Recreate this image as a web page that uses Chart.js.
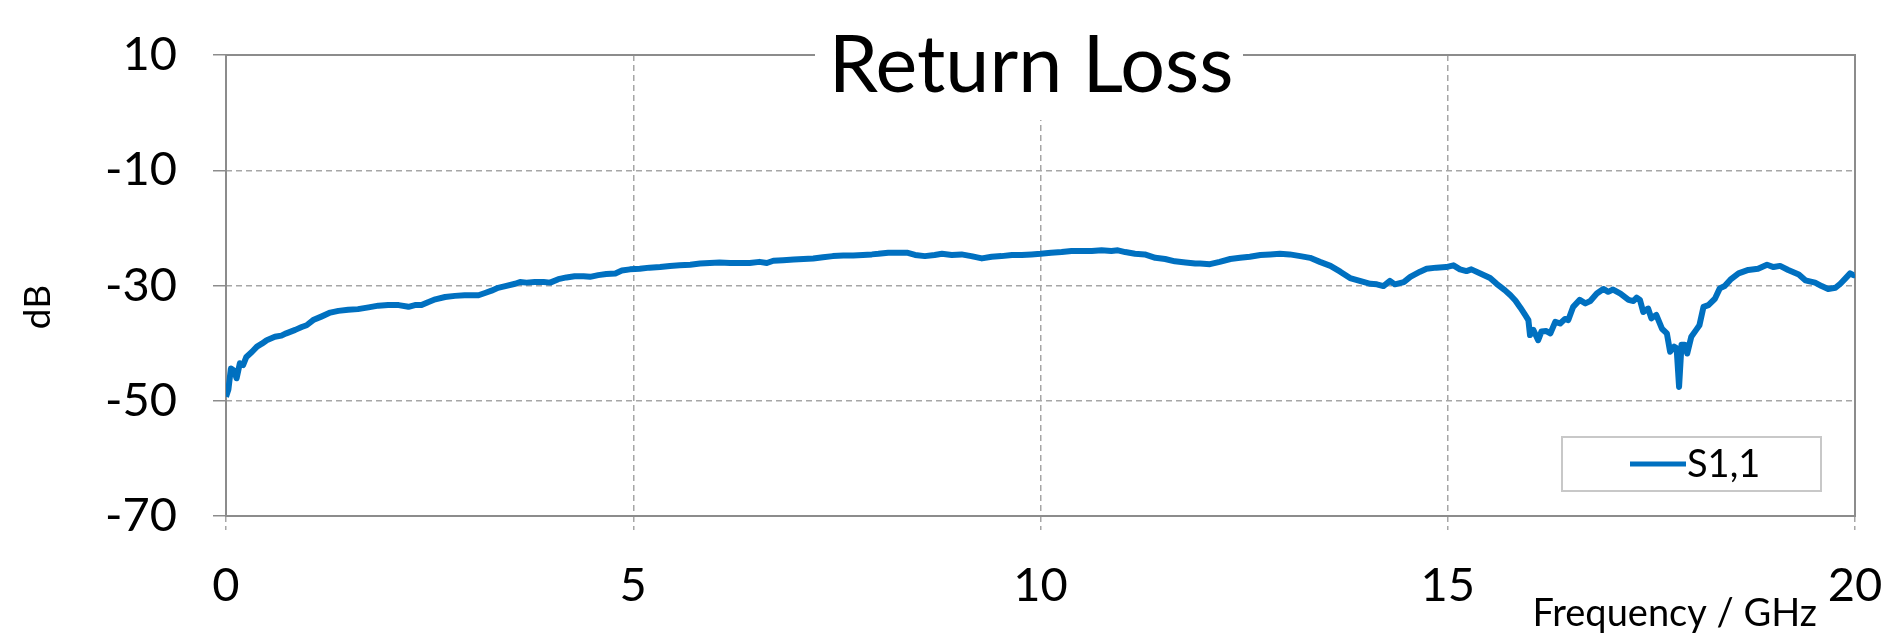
<!DOCTYPE html>
<html lang="en">
<head>
    <meta charset="UTF-8">
    <title>Return Loss</title>
    <script src="https://cdn.jsdelivr.net/npm/chart.js@4"></script>
    <style>
        html, body { margin: 0; padding: 0; background: #fff; }
        #wrap { width: 1890px; height: 634px; }
    </style>
</head>
<body>
    <div id="wrap"><canvas id="returnLoss" width="1890" height="634"></canvas></div>

    <script>
        // S1,1 (GHz, dB)
        const freqGHz = [
            0.00, 0.03, 0.06, 0.10, 0.13, 0.17, 0.21, 0.25, 0.32, 0.38,
            0.44, 0.50, 0.60, 0.68, 0.74, 0.85, 0.93, 0.99, 1.07, 1.17,
            1.28, 1.38, 1.50, 1.62, 1.75, 1.87, 1.99, 2.12, 2.24, 2.32,
            2.40, 2.48, 2.57, 2.69, 2.81, 2.93, 3.10, 3.18, 3.26, 3.34,
            3.43, 3.55, 3.61, 3.69, 3.79, 3.90, 3.98, 4.08, 4.18, 4.28,
            4.39, 4.47, 4.57, 4.67, 4.78, 4.86, 4.96, 5.08, 5.20, 5.33,
            5.45, 5.57, 5.70, 5.82, 5.94, 6.06, 6.19, 6.31, 6.43, 6.55,
            6.64, 6.72, 6.84, 6.97, 7.09, 7.21, 7.33, 7.45, 7.58, 7.70,
            7.82, 7.93, 8.01, 8.13, 8.25, 8.36, 8.46, 8.58, 8.70, 8.79,
            8.91, 9.03, 9.15, 9.28, 9.40, 9.52, 9.65, 9.77, 9.89, 10.00,
            10.13, 10.26, 10.38, 10.50, 10.63, 10.75, 10.87, 10.95, 11.04, 11.16,
            11.28, 11.41, 11.53, 11.65, 11.78, 11.90, 11.96, 12.08, 12.20, 12.33,
            12.45, 12.57, 12.70, 12.82, 12.94, 13.06, 13.19, 13.31, 13.43, 13.56,
            13.68, 13.80, 13.92, 14.05, 14.13, 14.21, 14.29, 14.35, 14.46, 14.54,
            14.66, 14.74, 14.86, 14.98, 15.07, 15.15, 15.23, 15.29, 15.40, 15.52,
            15.60, 15.70, 15.77, 15.83, 15.89, 15.95, 15.99, 16.01, 16.05, 16.08,
            16.11, 16.15, 16.21, 16.26, 16.32, 16.38, 16.44, 16.48, 16.54, 16.62,
            16.69, 16.75, 16.83, 16.91, 16.97, 17.03, 17.12, 17.22, 17.28, 17.32,
            17.36, 17.40, 17.46, 17.50, 17.56, 17.63, 17.69, 17.73, 17.78, 17.81,
            17.84, 17.87, 17.91, 17.94, 17.99, 18.05, 18.09, 18.14, 18.20, 18.28,
            18.34, 18.40, 18.47, 18.57, 18.69, 18.81, 18.92, 19.00, 19.08, 19.18,
            19.31, 19.39, 19.51, 19.59, 19.67, 19.76, 19.82, 19.88, 19.94, 19.98,
            20.00
        ];
        const s11dB = [
            -49.3, -48.0, -44.4, -44.8, -46.1, -43.5, -43.8, -42.4, -41.5, -40.6,
            -40.1, -39.5, -38.9, -38.7, -38.3, -37.7, -37.2, -36.9, -36.0, -35.4,
            -34.7, -34.4, -34.2, -34.1, -33.8, -33.5, -33.4, -33.4, -33.7, -33.4,
            -33.4, -32.9, -32.4, -32.0, -31.8, -31.7, -31.7, -31.3, -30.9, -30.4,
            -30.1, -29.7, -29.4, -29.5, -29.4, -29.4, -29.5, -28.9, -28.6, -28.4,
            -28.4, -28.5, -28.2, -28.0, -27.9, -27.4, -27.2, -27.1, -26.9, -26.8,
            -26.6, -26.5, -26.4, -26.2, -26.1, -26.0, -26.1, -26.1, -26.1, -25.9,
            -26.1, -25.7, -25.6, -25.5, -25.4, -25.3, -25.1, -24.9, -24.8, -24.8,
            -24.7, -24.6, -24.5, -24.3, -24.3, -24.3, -24.7, -24.9, -24.7, -24.5,
            -24.7, -24.6, -24.9, -25.3, -25.0, -24.9, -24.7, -24.7, -24.6, -24.5,
            -24.3, -24.2, -24.0, -24.0, -24.0, -23.9, -24.0, -23.9, -24.2, -24.5,
            -24.6, -25.2, -25.4, -25.8, -26.0, -26.2, -26.2, -26.3, -25.9, -25.4,
            -25.2, -25.0, -24.7, -24.6, -24.5, -24.6, -24.9, -25.2, -25.9, -26.6,
            -27.6, -28.7, -29.2, -29.7, -29.8, -30.1, -29.2, -29.8, -29.4, -28.5,
            -27.6, -27.1, -26.9, -26.8, -26.5, -27.2, -27.5, -27.2, -27.9, -28.7,
            -29.7, -30.8, -31.7, -32.6, -33.8, -35.1, -36.0, -38.6, -37.7, -38.6,
            -39.5, -38.0, -37.9, -38.3, -36.3, -36.6, -35.8, -36.0, -33.7, -32.5,
            -33.1, -32.7, -31.4, -30.6, -31.1, -30.7, -31.4, -32.5, -32.7, -32.1,
            -32.5, -34.6, -34.0, -35.7, -35.1, -37.5, -38.3, -41.5, -40.6, -40.9,
            -47.6, -40.3, -40.3, -41.8, -38.9, -37.7, -36.9, -33.7, -33.4, -32.3,
            -30.5, -30.1, -29.0, -27.9, -27.3, -27.1, -26.4, -26.8, -26.6, -27.3,
            -28.1, -29.1, -29.5, -30.1, -30.6, -30.4, -29.7, -28.8, -27.9, -28.2,
            -28.0
        ];
        const xTicks = [0, 5, 10, 15, 20];
        const yTicks = [-70, -50, -30, -10, 10];
        const seriesName = 'S1,1';
        const chartTitle = 'Return Loss';
        const xTitle = 'Frequency / GHz';
        const yTitle = 'dB';

        const FONT = 'Lato, Carlito, "Open Sans", sans-serif';
        const BLUE = '#0070C0';
        const AXIS_GREY = '#8c8c8c';
        const GRID_GREY = '#a6a6a6';

        // frame, title box, legend and axis titles drawn Excel-style
        const excelDecor = {
            id: 'excelDecor',
            beforeDatasetsDraw(chart) {
                const { ctx, chartArea: a } = chart;
                ctx.save();
                ctx.strokeStyle = AXIS_GREY;
                ctx.lineWidth = 2;
                ctx.strokeRect(a.left, a.top, a.right - a.left, a.bottom - a.top);
                ctx.restore();
            },
            afterDraw(chart) {
                const { ctx } = chart;
                ctx.save();

                // title sits on a white box that breaks the top border
                ctx.fillStyle = '#fff';
                ctx.fillRect(815, 20, 428, 100);
                ctx.fillStyle = '#000';
                ctx.font = '79px ' + FONT;
                ctx.textAlign = 'center';
                ctx.textBaseline = 'alphabetic';
                ctx.fillText(chartTitle, 1031, 92);

                // y axis title
                ctx.save();
                ctx.translate(38, 307);
                ctx.rotate(-Math.PI / 2);
                ctx.font = '37px ' + FONT;
                ctx.textAlign = 'center';
                ctx.textBaseline = 'middle';
                ctx.fillText(yTitle, 0, 0);
                ctx.restore();

                // x axis title, bottom right
                ctx.font = '38px ' + FONT;
                ctx.textAlign = 'right';
                ctx.textBaseline = 'alphabetic';
                ctx.fillText(xTitle, 1817, 626);

                // legend
                const ds = chart.data.datasets[0];
                ctx.fillStyle = '#fff';
                ctx.fillRect(1562, 437, 259, 54);
                ctx.strokeStyle = '#c8c8c8';
                ctx.lineWidth = 2;
                ctx.strokeRect(1562, 437, 259, 54);
                ctx.strokeStyle = ds.borderColor;
                ctx.lineWidth = 5;
                ctx.beginPath();
                ctx.moveTo(1630, 464);
                ctx.lineTo(1686, 464);
                ctx.stroke();
                ctx.fillStyle = '#000';
                ctx.font = '38px ' + FONT;
                ctx.textAlign = 'left';
                ctx.fillText(ds.label, 1687, 477);

                ctx.restore();
            }
        };

        const ctx = document.getElementById('returnLoss').getContext('2d');
        new Chart(ctx, {
            type: 'line',
            data: {
                datasets: [{
                    label: seriesName,
                    data: freqGHz.map((f, i) => ({ x: f, y: s11dB[i] })),
                    borderColor: BLUE,
                    backgroundColor: BLUE,
                    borderWidth: 6,
                    borderJoinStyle: 'round',
                    pointRadius: 0,
                    tension: 0,
                    fill: false
                }]
            },
            options: {
                responsive: false,
                animation: false,
                devicePixelRatio: 1,
                layout: { padding: { left: 0, right: 35, top: 55, bottom: 0 } },
                plugins: {
                    legend: { display: false },
                    title: { display: false },
                    tooltip: { enabled: false }
                },
                scales: {
                    x: {
                        type: 'linear',
                        min: xTicks[0],
                        max: xTicks[xTicks.length - 1],
                        afterBuildTicks: s => { s.ticks = xTicks.map(v => ({ value: v })); },
                        afterFit: s => { s.height = 118; s.paddingLeft = 0; s.paddingRight = 0; },
                        ticks: {
                            font: { family: FONT, size: 47 },
                            color: '#000',
                            padding: 28,
                            maxRotation: 0,
                            autoSkip: false
                        },
                        grid: {
                            color: GRID_GREY,
                            lineWidth: 1.5,
                            tickLength: 14,
                            tickColor: GRID_GREY,
                            tickBorderDash: [6, 4]
                        },
                        border: { display: false, dash: [6, 4] }
                    },
                    y: {
                        min: yTicks[0],
                        max: yTicks[yTicks.length - 1],
                        afterBuildTicks: s => { s.ticks = yTicks.map(v => ({ value: v })); },
                        afterFit: s => { s.width = 226; s.paddingTop = 0; s.paddingBottom = 0; },
                        ticks: {
                            font: { family: FONT, size: 47 },
                            color: '#000',
                            padding: 36
                        },
                        grid: {
                            color: GRID_GREY,
                            lineWidth: 1.5,
                            tickLength: 13,
                            tickColor: AXIS_GREY
                        },
                        border: { display: false, dash: [6, 4] }
                    }
                }
            },
            plugins: [excelDecor]
        });
    </script>
</body>
</html>
